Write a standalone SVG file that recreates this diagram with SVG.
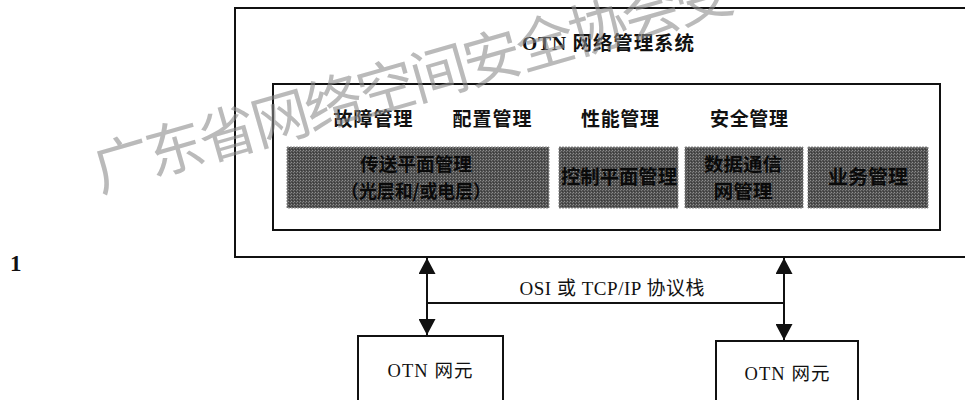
<svg xmlns="http://www.w3.org/2000/svg" width="965" height="400" viewBox="0 0 965 400">
<defs>
<pattern id="stip" width="3" height="3" patternUnits="userSpaceOnUse">
<rect width="3" height="3" fill="#4f4f4f"/>
<rect x="0" y="0" width="1" height="1" fill="#8e8e8e"/>
<rect x="2" y="1" width="1" height="1" fill="#7a7a7a"/>
<rect x="1" y="2" width="1" height="1" fill="#3a3a3a"/>
</pattern>
<marker id="ah" viewBox="0 0 16 17" refX="16" refY="8.5" markerWidth="16" markerHeight="17" markerUnits="userSpaceOnUse" orient="auto-start-reverse">
<path d="M0,0 L16,8.5 L0,17 Z" fill="#111"/>
</marker>
<style>
.ln{fill:none;stroke:#111;stroke-width:2}
.box{fill:#fff;stroke:#111;stroke-width:2}
.gbox{fill:url(#stip);stroke:#8a8a8a;stroke-width:1;stroke-dasharray:2 1}
.t{font-family:"Liberation Serif","Noto Sans CJK SC",serif;font-weight:bold;fill:#111;text-anchor:middle}
.n{font-family:"Liberation Serif","Noto Sans CJK SC",serif;fill:#111;text-anchor:middle}
.g{font-family:"Noto Sans CJK SC",sans-serif;font-weight:bold;fill:#0a0a0a;text-anchor:middle;font-size:19.5px}
.g2{font-family:"Noto Sans CJK SC",sans-serif;font-weight:bold;fill:#0a0a0a;text-anchor:middle;font-size:18.5px}
.wm{font-family:"Noto Sans CJK SC",sans-serif;font-weight:normal;fill:#8c8c8c;fill-opacity:0.6;font-size:58px;letter-spacing:-3px}
</style>
</defs>
<rect width="965" height="400" fill="#fff"/>

<g id="nms">
<path class="ln" d="M970,8 H235 V257 H970"/>
<text class="t" x="608" y="50" font-size="19.5" textLength="172" lengthAdjust="spacing">OTN 网络管理系统</text>
</g>

<g id="functions">
<rect class="box" x="273" y="84" width="667" height="146"/>
<text class="t" x="373" y="126" font-size="19" textLength="79" lengthAdjust="spacing">故障管理</text>
<text class="t" x="492" y="126" font-size="19" textLength="79" lengthAdjust="spacing">配置管理</text>
<text class="t" x="620" y="126" font-size="19" textLength="78" lengthAdjust="spacing">性能管理</text>
<text class="t" x="749" y="126" font-size="19" textLength="78" lengthAdjust="spacing">安全管理</text>
</g>

<g id="transport">
<rect class="gbox" x="287" y="147" width="262" height="61"/>
<text class="g2" x="416" y="170.5" textLength="112" lengthAdjust="spacingAndGlyphs">传送平面管理</text>
<text class="g2" x="416" y="197.5" textLength="150" lengthAdjust="spacingAndGlyphs">（光层和/或电层）</text>
</g>
<g id="control">
<rect class="gbox" x="559" y="147" width="119" height="61"/>
<text class="g" x="619" y="184" textLength="116" lengthAdjust="spacingAndGlyphs">控制平面管理</text>
</g>
<g id="dcn">
<rect class="gbox" x="685" y="147" width="118" height="61"/>
<text class="g2" x="743" y="170.5" textLength="78" lengthAdjust="spacingAndGlyphs">数据通信</text>
<text class="g2" x="743" y="197.5" textLength="59" lengthAdjust="spacingAndGlyphs">网管理</text>
</g>
<g id="service">
<rect class="gbox" x="808" y="147" width="120" height="61"/>
<text class="g" x="868" y="184" textLength="80" lengthAdjust="spacingAndGlyphs">业务管理</text>
</g>

<g id="connectors">
<line class="ln" x1="427" y1="258" x2="427" y2="335" marker-start="url(#ah)" marker-end="url(#ah)"/>
<line class="ln" x1="784" y1="258" x2="784" y2="340" marker-start="url(#ah)" marker-end="url(#ah)"/>
<line class="ln" x1="427" y1="303" x2="784" y2="303"/>
<text class="n" x="612" y="295" font-size="19" textLength="185" lengthAdjust="spacing">OSI 或 TCP/IP 协议栈</text>
</g>

<g id="ne1">
<rect class="box" x="358" y="336" width="145" height="80"/>
<text class="n" x="430" y="377" font-size="18.5" textLength="85" lengthAdjust="spacing">OTN 网元</text>
</g>
<g id="ne2">
<rect class="box" x="716" y="341" width="142" height="80"/>
<text class="n" x="787" y="380" font-size="18.5" textLength="85" lengthAdjust="spacing">OTN 网元</text>
</g>

<text x="10" y="271" font-family="Liberation Serif, serif" font-size="23" font-weight="bold" fill="#111">1</text>

<g id="watermark">
<text class="wm" x="100" y="192" transform="rotate(-16 100 192)">广东省网络空间安全协会受</text>
</g>
</svg>
